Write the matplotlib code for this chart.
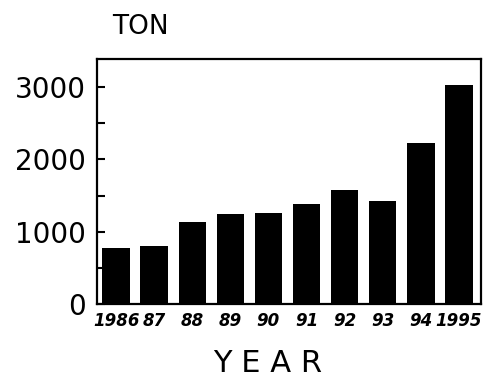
import matplotlib.pyplot as plt
from matplotlib.ticker import MultipleLocator

years = ["1986", "87", "88", "89", "90", "91", "92", "93", "94", "1995"]
tons = [780, 800, 1130, 1240, 1260, 1390, 1580, 1420, 2230, 3030]
y_ticks = [0, 1000, 2000, 3000]

fig = plt.figure(figsize=(4.93, 3.79), dpi=100)
ax = fig.add_axes([97 / 493, 1 - 304 / 379, 384 / 493, 245 / 379])

ax.bar(range(len(years)), tons, width=0.72, color="black")

ax.set_xlim(-0.5, len(years) - 0.42)
ax.set_ylim(0, 3390)
ax.set_yticks(y_ticks)
ax.set_yticklabels([str(v) for v in y_ticks], fontsize=20)
ax.yaxis.set_minor_locator(MultipleLocator(500))
ax.tick_params(axis="y", which="both", direction="in", length=6, width=1.5, pad=8)

ax.set_xticks(range(len(years)))
ax.set_xticklabels(years, fontsize=12, fontweight="bold", style="italic")
ax.tick_params(axis="x", length=0, pad=6)

for s in ax.spines.values():
    s.set_linewidth(1.6)

fig.text(112 / 493, 1 - 34 / 379, "TON", fontsize=19)
fig.text(268 / 493, 1 - 372 / 379, "Y E A R", fontsize=22, ha="center")

fig.savefig("out.png", dpi=100)
